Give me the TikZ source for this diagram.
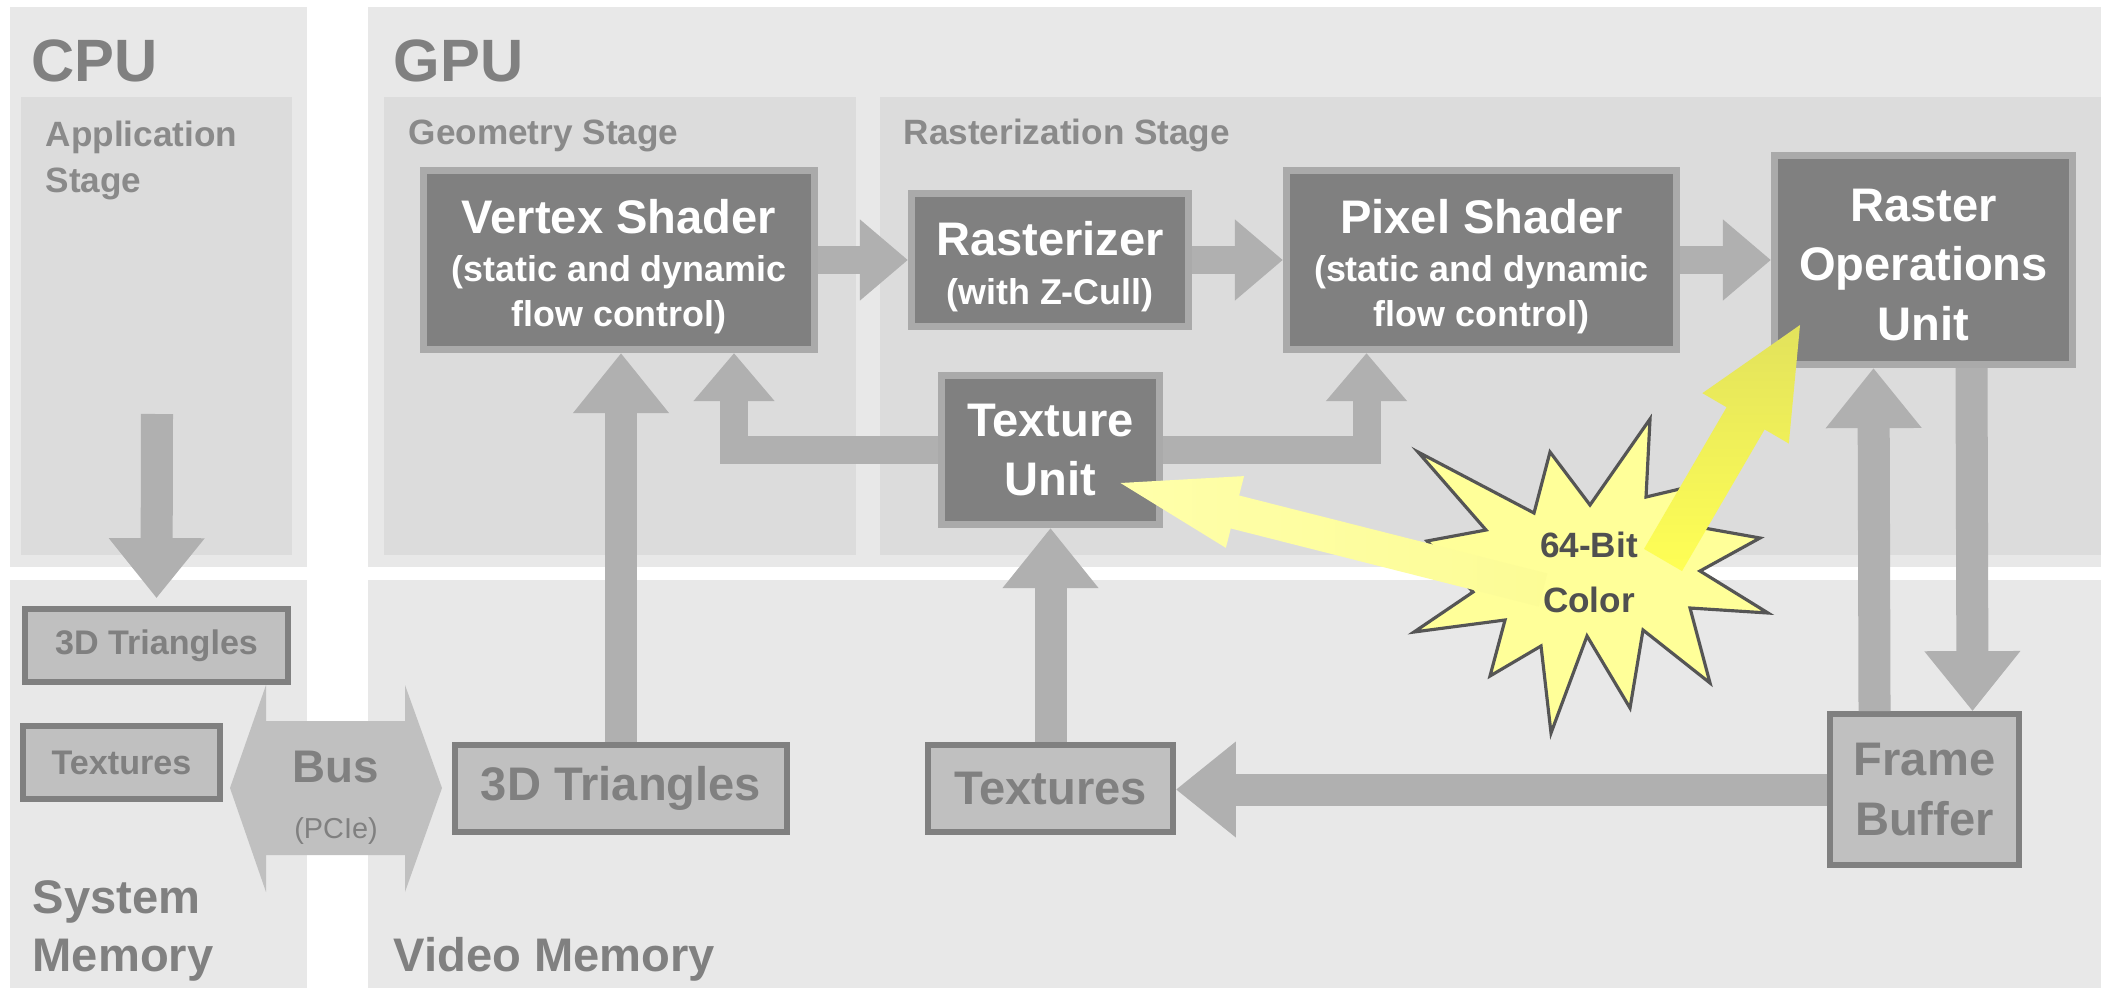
\documentclass[tikz,border=0pt]{standalone}
\usepackage{fontspec}
\setmainfont{Liberation Sans}
\usepackage{tikz}
\usetikzlibrary{arrows.meta, calc}
\definecolor{panelout}{RGB}{232, 232, 232}
\definecolor{panelin}{RGB}{220, 220, 220}
\definecolor{boxdark}{RGB}{128, 128, 128}
\definecolor{boxrim}{RGB}{170, 170, 170}
\definecolor{linkgray}{RGB}{176, 176, 176}
\definecolor{memfill}{RGB}{192, 192, 192}
\definecolor{memrim}{RGB}{128, 128, 128}
\definecolor{labelgray}{RGB}{128, 128, 128}
\definecolor{stagegray}{RGB}{138, 138, 138}
\definecolor{starfill}{RGB}{255, 255, 153}
\definecolor{starline}{RGB}{85, 85, 85}
\definecolor{startext}{RGB}{80, 80, 80}
\definecolor{glowtip}{RGB}{255, 255, 170}
\definecolor{glowbase}{RGB}{252, 252, 150}
\definecolor{goldtip}{RGB}{226, 226, 92}
\definecolor{goldbase}{RGB}{255, 255, 85}
\newcommand{\titlefont}{\fontsize{13.4}{17}\selectfont\bfseries}
\newcommand{\subfont}{\fontsize{10.2}{12.8}\selectfont\bfseries}
\newcommand{\memfont}{\fontsize{13.4}{17}\selectfont\bfseries}
\newcommand{\memsmallfont}{\fontsize{9.7}{12}\selectfont\bfseries}
\newcommand{\headstrut}[1]{\rule{0pt}{#1}}
\tikzstyle{hwbox} = [rectangle, draw=boxrim, fill=boxdark, line width=2pt, text=white, align=center, inner sep=0pt, font=\titlefont]
\tikzstyle{membox} = [rectangle, draw=memrim, fill=memfill, line width=1.6pt, text=labelgray, align=center, inner sep=0pt, font=\memfont]
\tikzstyle{biglink} = [draw=linkgray, line width=0.32cm, -{Triangle[length=0.6cm, width=0.92cm]}]
\tikzstyle{smalllink} = [draw=linkgray, line width=0.28cm, -{Triangle[length=0.48cm, width=0.78cm]}]
\tikzstyle{panellabel} = [anchor=base west, inner sep=0pt, text=labelgray, font=\fontsize{17}{20}\selectfont\bfseries]
\tikzstyle{stagelabel} = [inner sep=0pt, text=stagegray, font=\fontsize{10}{13.1}\selectfont\bfseries]
\tikzstyle{memlabel} = [inner sep=0pt, text=labelgray, font=\fontsize{13.4}{16.5}\selectfont\bfseries]
\tikzstyle{burstshape} = [fill=starfill, draw=starline, line width=0.9pt, line join=miter]
\tikzstyle{bursttext} = [inner sep=0pt, align=center, text=startext, font=\fontsize{10}{15.6}\selectfont\bfseries]
\pgfdeclarelayer{front}
\pgfsetlayers{main,front}
% fat shaded arrow: start, end, half shaft, half head, head length, shading
\newcommand{\glowarrow}[6]{%
    \coordinate (ga-s) at (#1);
    \coordinate (ga-e) at (#2);
    \coordinate (ga-b) at ($(ga-e)!#5!(ga-s)$);
    \shade[#6] ($(ga-s)!#3!90:(ga-e)$) -- ($(ga-b)!#3!90:(ga-e)$) -- ($(ga-b)!#4!90:(ga-e)$) -- (ga-e)
        -- ($(ga-b)!#4!-90:(ga-e)$) -- ($(ga-b)!#3!-90:(ga-e)$) -- ($(ga-s)!#3!-90:(ga-e)$) -- cycle;
}

\begin{document}
\begin{tikzpicture}[x=0.01cm, y=-0.01cm]
    \useasboundingbox (0,0) rectangle (2101,988);

    % Panels
    \fill[panelout] (10,7) rectangle (307,567);
    \fill[panelout] (368,7) rectangle (2101,567);
    \fill[panelin] (21,97) rectangle (292,555);
    \fill[panelin] (384,97) rectangle (856,555);
    \fill[panelin] (880,97) rectangle (2101,555);
    \fill[panelout] (10,580) rectangle (307,988);
    \fill[panelout] (368,580) rectangle (2101,988);

    % Panel labels
    \node[panellabel] (cpulbl) at (31,82) {CPU};
    \node[panellabel] (gpulbl) at (393,82) {GPU};
    \node[stagelabel, anchor=north west, align=left] (applbl) at (45,120) {Application\\Stage};
    \node[stagelabel, anchor=base west] (geolbl) at (408,145) {Geometry Stage};
    \node[stagelabel, anchor=base west] (raslbl) at (903,145) {Rasterization Stage};
    \node[memlabel, anchor=north west, align=left] (syslbl) at (32,880) {System\\Memory};
    \node[memlabel, anchor=base west] (vidlbl) at (393,971) {Video Memory};

    % Bus
    \fill[memfill] (230,788) -- (266,685) -- (266,721) -- (405,721) -- (405,685) -- (442,788)
        -- (405,892) -- (405,855) -- (266,855) -- (266,892) -- cycle;
    \node[anchor=north, align=center, inner sep=0pt, text=labelgray, font=\fontsize{8.2}{10}\selectfont] (bus) at (336,750)
        {{\fontsize{13}{16}\selectfont\bfseries Bus}\\[6pt](PCIe)};

    % GPU units
    \node[hwbox, minimum width=3.91cm, minimum height=1.79cm, font=\subfont] (vs) at (619,260)
        {{\titlefont\headstrut{13.4pt}Vertex Shader}\\[1pt](static and dynamic\\flow control)};
    \node[hwbox, minimum width=2.77cm, minimum height=1.33cm, font=\subfont] (rast) at (1050,260)
        {{\titlefont\headstrut{13.4pt}Rasterizer}\\[1pt](with Z-Cull)};
    \node[hwbox, minimum width=3.90cm, minimum height=1.79cm, font=\subfont] (ps) at (1481.5,260)
        {{\titlefont\headstrut{13.4pt}Pixel Shader}\\[1pt](static and dynamic\\flow control)};
    \node[hwbox, minimum width=2.98cm, minimum height=2.09cm] (rop) at (1923.5,260) {\headstrut{12pt}Raster\\Operations\\Unit};
    \node[hwbox, minimum width=2.18cm, minimum height=1.49cm] (tu) at (1050.5,450) {Texture\\Unit};

    % Memory blocks
    \node[membox, minimum width=2.63cm, minimum height=0.73cm, font=\memsmallfont] (sys3d) at (156.5,645.5) {3D Triangles};
    \node[membox, minimum width=1.97cm, minimum height=0.73cm, font=\memsmallfont] (systex) at (121.5,762.5) {Textures};
    \node[membox, minimum width=3.32cm, minimum height=0.87cm] (vm3d) at (621,788.5) {3D Triangles};
    \node[membox, minimum width=2.45cm, minimum height=0.87cm] (vmtex) at (1050.5,788.5) {Textures};
    \node[membox, minimum width=1.89cm, minimum height=1.51cm] (fb) at (1924.5,789.5) {Frame\\Buffer};

    % Links
    \coordinate (appout) at (157,414);
    \draw[biglink, shorten >=0.08cm] (appout) -- (sys3d.north);
    \draw[biglink] (vm3d.north) -- (vm3d.north |- vs.south);
    \draw[smalllink] (vs.east) -- (rast.west);
    \draw[smalllink] (rast.east) -- (ps.west);
    \draw[smalllink] (ps.east) -- (rop.west);
    \draw[smalllink] (tu.west) -| ($(vs.south)+(115,0)$);
    \draw[smalllink] (tu.east) -| ($(ps.south)+(-115,0)$);
    \draw[biglink] (vmtex.north) -- (tu.south);
    \draw[biglink] (fb.west) -- (fb.west -| vmtex.east);
    \draw[biglink] ($(fb.north)+(-50,0)$) -- ($(rop.south)+(-50,0)$);
    \draw[biglink] ($(rop.south)+(48,0)$) -- ($(fb.north)+(48,0)$);

    % 64-bit colour burst
    \draw[burstshape] (1418,452) -- (1534,513) -- (1550,452) -- (1590,505) -- (1650,419) -- (1646,497)
        -- (1684,488) -- (1704,528) -- (1760,538) -- (1700,571) -- (1768,613) -- (1690,608) -- (1710,683)
        -- (1643,630) -- (1630,708) -- (1587,636) -- (1551,733) -- (1541,646) -- (1490,676) -- (1505,620)
        -- (1414,632) -- (1473,592) -- (1427,541) -- (1486,530) -- cycle;
    \begin{pgfonlayer}{front}
        \node[bursttext] (burst) at (1589,572) {64-Bit\\Color};
    \end{pgfonlayer}
    \glowarrow{$(burst.center)+(-46,18)$}{$(tu.center)+(70,33)$}{0.17cm}{0.37cm}{1.18cm}{left color=glowtip, right color=glowbase}
    \glowarrow{$(burst.center)+(74,-12)$}{$(rop.center)+(-123.5,65)$}{0.22cm}{0.5cm}{1.08cm}{top color=goldtip, bottom color=goldbase}
\end{tikzpicture}
\end{document}
